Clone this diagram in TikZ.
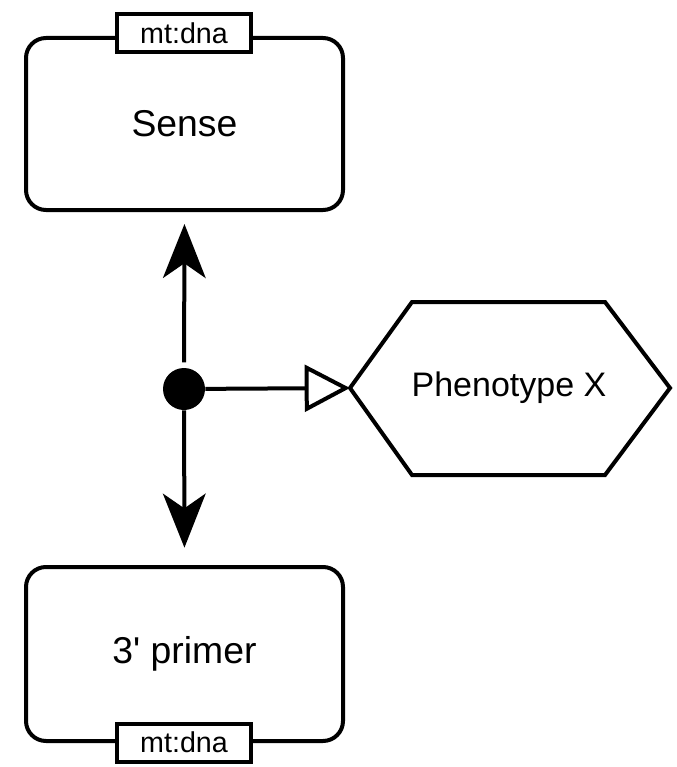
\documentclass[tikz,border=0pt]{standalone}
\usepackage{fontspec}
\setmainfont{Liberation Sans}[Ligatures=TeXOff]
\usetikzlibrary{arrows.meta}
\begin{document}
\begin{tikzpicture}[x=0.75pt,y=-0.75pt,
  box/.style={draw,line width=3pt,rounded corners=15pt,minimum width=237.75pt,minimum height=129pt,inner sep=0pt,font=\fontsize{28}{32}\selectfont},
  tag/.style={draw,fill=white,line width=3pt,minimum width=100.5pt,minimum height=28.5pt,inner sep=0pt,font=\fontsize{21.5}{24}\selectfont},
  conn/.style={line width=3pt},
  hexa/.style={draw,line width=3pt,line join=miter}
]
\useasboundingbox (0,0) rectangle (677,767);
\node[box] (sense) at (184.5,124) {Sense};
\node[tag] (tagtop) at (184,33.5) {mt:dna};
\node[box,minimum height=130.5pt] (primer) at (184.5,654) {3' primer};
\node[tag] (tagbot) at (184,742.5) {mt:dna};
\node[circle,fill=black,minimum size=31.5pt,inner sep=0pt] (dot) at (184,389) {};
\node[font=\fontsize{25.5}{28}\selectfont] (ph) at (509,388) {Phenotype X};
\coordinate (phw) at (350,388);
\draw[hexa] (phw) -- (412,302) -- (605,302) -- (670,388) -- (605,475) -- (412,475) -- cycle;
\draw[conn,shorten <=4pt,shorten >=9pt,-{Stealth[length=40.5pt,width=32pt,inset=11pt]}] (dot) -- (sense.south);
\draw[conn,shorten >=13pt,-{Stealth[length=40.5pt,width=32pt,inset=11pt]}] (dot) -- (primer.north);
\draw[conn,-{Triangle[open,length=34pt,width=35pt]}] (dot) -- (phw);
\end{tikzpicture}
\end{document}
